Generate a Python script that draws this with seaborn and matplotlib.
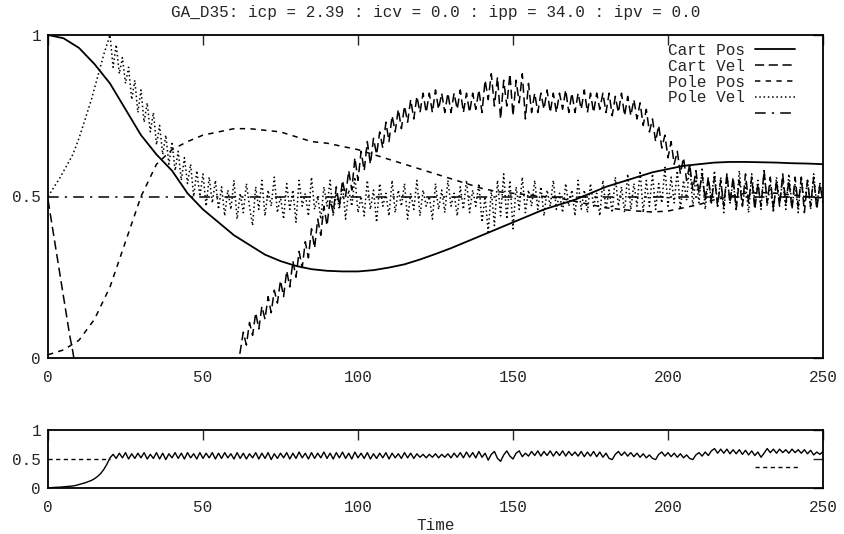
import numpy as np
import matplotlib
matplotlib.use("Agg")
import matplotlib.pyplot as plt
import seaborn as sns

# time grids
time_coarse = np.arange(0, 251, 5)
time_fine = np.arange(0, 251)
cart_vel_time = np.r_[0:11, 60:251]

# Cart Pos (every 5 time steps)
cart_pos = [1.0, 0.99, 0.96, 0.91, 0.85, 0.77, 0.69, 0.63, 0.58, 0.51,
            0.46, 0.42, 0.38, 0.35, 0.32, 0.30, 0.285, 0.275, 0.27, 0.268,
            0.268, 0.272, 0.28, 0.29, 0.305, 0.322, 0.34, 0.36, 0.38, 0.40,
            0.42, 0.44, 0.46, 0.475, 0.49, 0.51, 0.53, 0.545, 0.56, 0.575,
            0.585, 0.595, 0.60, 0.605, 0.607, 0.607, 0.606, 0.605, 0.603, 0.602,
            0.60]

# Pole Pos (every 5 time steps)
pole_pos = [0.01, 0.025, 0.055, 0.12, 0.22, 0.36, 0.50, 0.60, 0.645, 0.67,
            0.69, 0.70, 0.71, 0.71, 0.705, 0.70, 0.685, 0.67, 0.665, 0.655,
            0.645, 0.63, 0.615, 0.60, 0.585, 0.57, 0.555, 0.54, 0.525, 0.515,
            0.51, 0.505, 0.50, 0.495, 0.485, 0.475, 0.465, 0.46, 0.455, 0.452,
            0.455, 0.465, 0.475, 0.49, 0.50, 0.51, 0.512, 0.51, 0.505, 0.50,
            0.495]

# Cart Vel (t = 0..10, then 60..250)
cart_vel = [0.49, 0.43, 0.37, 0.31, 0.25, 0.19, 0.13, 0.07, 0.02, -0.04, -0.1,
            -0.1, -0.04,
            0.02, 0.08, 0.04, 0.11, 0.07, 0.14, 0.09, 0.16, 0.12, 0.19,
            0.14, 0.21, 0.17, 0.24, 0.19, 0.27, 0.22, 0.30, 0.25, 0.33,
            0.28, 0.36, 0.31, 0.40, 0.34, 0.43, 0.38, 0.47, 0.41, 0.49,
            0.45, 0.53, 0.47, 0.55, 0.50, 0.58, 0.52, 0.62, 0.55, 0.64,
            0.58, 0.67, 0.60, 0.68, 0.63, 0.70, 0.65, 0.73, 0.67, 0.75,
            0.70, 0.77, 0.71, 0.78, 0.73, 0.80, 0.74, 0.81, 0.76, 0.82,
            0.76, 0.82, 0.76, 0.83, 0.77, 0.82, 0.76, 0.82, 0.76, 0.82,
            0.77, 0.83, 0.76, 0.82, 0.76, 0.82, 0.77, 0.83, 0.76, 0.86,
            0.80, 0.88, 0.78, 0.87, 0.74, 0.86, 0.78, 0.88, 0.75, 0.86,
            0.79, 0.88, 0.74, 0.85, 0.76, 0.82, 0.76, 0.82, 0.77, 0.83,
            0.76, 0.82, 0.76, 0.82, 0.77, 0.83, 0.76, 0.82, 0.76, 0.82,
            0.77, 0.83, 0.76, 0.82, 0.76, 0.82, 0.77, 0.82, 0.76, 0.82,
            0.75, 0.81, 0.76, 0.82, 0.75, 0.81, 0.75, 0.80, 0.74, 0.79,
            0.72, 0.77, 0.70, 0.74, 0.67, 0.72, 0.65, 0.69, 0.62, 0.67,
            0.60, 0.64, 0.57, 0.62, 0.55, 0.60, 0.52, 0.58, 0.51, 0.57,
            0.49, 0.56, 0.48, 0.56, 0.47, 0.55, 0.47, 0.57, 0.48, 0.56,
            0.46, 0.55, 0.47, 0.57, 0.48, 0.56, 0.46, 0.54, 0.47, 0.58,
            0.48, 0.56, 0.46, 0.55, 0.47, 0.57, 0.48, 0.55, 0.46, 0.56,
            0.47, 0.56, 0.45, 0.55, 0.47, 0.56, 0.46, 0.54, 0.48]

# Pole Vel (t = 0..250)
pole_vel = [0.50, 0.515, 0.53, 0.545, 0.56, 0.578, 0.595, 0.612, 0.63, 0.655,
            0.68, 0.71, 0.74, 0.77, 0.80, 0.835, 0.87, 0.905, 0.94, 0.97,
            1.0, 0.90, 0.97, 0.88, 0.93, 0.85, 0.90, 0.80, 0.86, 0.76,
            0.83, 0.73, 0.79, 0.70, 0.76, 0.66, 0.72, 0.63, 0.69, 0.60,
            0.67, 0.58, 0.64, 0.55, 0.62, 0.54, 0.60, 0.50, 0.58, 0.50,
            0.57, 0.47, 0.56, 0.48, 0.55, 0.46, 0.53, 0.44, 0.52, 0.46,
            0.55, 0.43, 0.51, 0.45, 0.54, 0.47, 0.41, 0.53, 0.46, 0.55,
            0.44, 0.52, 0.47, 0.56, 0.45, 0.50, 0.43, 0.54, 0.46, 0.52,
            0.42, 0.55, 0.47, 0.51, 0.44, 0.56, 0.46, 0.50, 0.43, 0.53,
            0.47, 0.55, 0.44, 0.51, 0.46, 0.54, 0.43, 0.52, 0.47, 0.56,
            0.45, 0.50, 0.44, 0.55, 0.46, 0.52, 0.42, 0.54, 0.47, 0.51,
            0.44, 0.55, 0.45, 0.52, 0.47, 0.54, 0.43, 0.51, 0.46, 0.55,
            0.44, 0.52, 0.47, 0.50, 0.43, 0.54, 0.46, 0.52, 0.45, 0.55,
            0.47, 0.51, 0.44, 0.53, 0.46, 0.55, 0.45, 0.52, 0.47, 0.54,
            0.42, 0.50, 0.39, 0.52, 0.41, 0.55, 0.44, 0.57, 0.43, 0.55,
            0.40, 0.53, 0.46, 0.56, 0.45, 0.52, 0.47, 0.55, 0.46, 0.53,
            0.44, 0.52, 0.47, 0.55, 0.46, 0.51, 0.45, 0.54, 0.47, 0.52,
            0.44, 0.55, 0.46, 0.52, 0.45, 0.54, 0.47, 0.51, 0.44, 0.55,
            0.46, 0.52, 0.45, 0.56, 0.47, 0.53, 0.45, 0.57, 0.46, 0.54,
            0.47, 0.58, 0.45, 0.55, 0.47, 0.57, 0.46, 0.54, 0.48, 0.59,
            0.47, 0.56, 0.48, 0.58, 0.46, 0.55, 0.49, 0.60, 0.47, 0.56,
            0.48, 0.59, 0.46, 0.55, 0.49, 0.58, 0.47, 0.56, 0.45, 0.57,
            0.48, 0.55, 0.46, 0.58, 0.47, 0.54, 0.45, 0.57, 0.48, 0.55,
            0.46, 0.58, 0.47, 0.54, 0.45, 0.56, 0.48, 0.55, 0.46, 0.57,
            0.47, 0.54, 0.45, 0.56, 0.48, 0.55, 0.46, 0.57, 0.47, 0.54,
            0.49]

ref_time = [0, 250]
ref_level = [0.5, 0.5]

# lower panel (t = 0..250)
fitness = [0.0, 0.005, 0.01, 0.012, 0.015, 0.02, 0.025, 0.03, 0.035, 0.045,
           0.06, 0.075, 0.09, 0.11, 0.13, 0.16, 0.20, 0.25, 0.32, 0.41,
           0.52, 0.58, 0.51, 0.60, 0.52, 0.61, 0.50, 0.59, 0.51, 0.60,
           0.52, 0.61, 0.50, 0.58, 0.51, 0.61, 0.50, 0.60, 0.49, 0.59,
           0.52, 0.61, 0.51, 0.60, 0.50, 0.61, 0.52, 0.59, 0.50, 0.61,
           0.51, 0.60, 0.52, 0.61, 0.50, 0.60, 0.51, 0.61, 0.52, 0.59,
           0.50, 0.61, 0.51, 0.60, 0.50, 0.59, 0.52, 0.61, 0.50, 0.60,
           0.51, 0.61, 0.49, 0.59, 0.51, 0.60, 0.52, 0.61, 0.50, 0.60,
           0.51, 0.62, 0.52, 0.60, 0.50, 0.61, 0.51, 0.60, 0.52, 0.62,
           0.51, 0.60, 0.50, 0.61, 0.52, 0.62, 0.51, 0.60, 0.50, 0.62,
           0.52, 0.60, 0.51, 0.61, 0.50, 0.59, 0.51, 0.60, 0.52, 0.61,
           0.50, 0.60, 0.52, 0.59, 0.51, 0.61, 0.52, 0.60, 0.51, 0.59,
           0.53, 0.58, 0.52, 0.58, 0.53, 0.59, 0.52, 0.58, 0.53, 0.59,
           0.52, 0.60, 0.53, 0.61, 0.52, 0.62, 0.53, 0.61, 0.52, 0.63,
           0.53, 0.60, 0.48, 0.58, 0.63, 0.51, 0.46, 0.57, 0.64, 0.55,
           0.50, 0.60, 0.64, 0.54, 0.60, 0.55, 0.63, 0.56, 0.64, 0.55,
           0.63, 0.56, 0.64, 0.55, 0.63, 0.56, 0.64, 0.55, 0.63, 0.56,
           0.62, 0.55, 0.63, 0.54, 0.62, 0.55, 0.63, 0.54, 0.62, 0.53,
           0.60, 0.51, 0.49, 0.58, 0.63, 0.56, 0.62, 0.55, 0.61, 0.54,
           0.60, 0.53, 0.59, 0.52, 0.57, 0.51, 0.49, 0.58, 0.62, 0.55,
           0.61, 0.54, 0.60, 0.53, 0.59, 0.52, 0.57, 0.51, 0.49, 0.57,
           0.61, 0.55, 0.62, 0.56, 0.64, 0.68, 0.60, 0.67, 0.60, 0.67,
           0.59, 0.66, 0.59, 0.66, 0.58, 0.65, 0.57, 0.64, 0.56, 0.62,
           0.53, 0.60, 0.68, 0.61, 0.67, 0.60, 0.67, 0.61, 0.66, 0.60,
           0.67, 0.61, 0.66, 0.60, 0.66, 0.59, 0.65, 0.57, 0.62, 0.58,
           0.63]
fitness_ref_time = [0, 20]
fitness_ref_level = [0.5, 0.5]

x_ticks = [0, 50, 100, 150, 200, 250]
y_ticks = [0, 0.5, 1]
y_labels = ["0", "0.5", "1"]

sns.set_style("white")
plt.rcParams["font.family"] = ["Liberation Mono", "DejaVu Sans Mono"]

fig = plt.figure(figsize=(8.45, 5.34), dpi=100)
ax = fig.add_axes([48 / 845, 1 - 358 / 534, 775 / 845, 323 / 534])
ax2 = fig.add_axes([48 / 845, 1 - 488 / 534, 775 / 845, 58 / 534])

lw = 1.1
sns.lineplot(x=time_coarse, y=cart_pos, ax=ax, color="black", linewidth=1.3)
sns.lineplot(x=cart_vel_time, y=cart_vel, ax=ax, color="black", linewidth=lw,
             linestyle=(0, (6, 3)))
sns.lineplot(x=time_coarse, y=pole_pos, ax=ax, color="black", linewidth=lw,
             linestyle=(0, (3.5, 3.5)))
sns.lineplot(x=time_fine, y=pole_vel, ax=ax, color="black", linewidth=lw,
             linestyle=(0, (1, 1.8)))
sns.lineplot(x=ref_time, y=ref_level, ax=ax, color="black", linewidth=lw,
             linestyle=(0, (7, 4, 1.5, 4)))

handles = ax.get_lines()[:5]
ax.legend(handles, ["Cart Pos", "Cart Vel", "Pole Pos", "Pole Vel", ""],
          loc="upper right", bbox_to_anchor=(0.982, 1.02), frameon=False,
          markerfirst=False, handlelength=2.5, handletextpad=0.6,
          labelspacing=0.05, fontsize=11.5)

ax.set_xlim(0, 250)
ax.set_ylim(0, 1)
ax.set_xticks(x_ticks)
ax.set_yticks(y_ticks)
ax.set_yticklabels(y_labels)
ax.set_title("GA_D35: icp = 2.39 : icv = 0.0 : ipp = 34.0 : ipv = 0.0",
             fontsize=11.5, pad=13)

sns.lineplot(x=time_fine, y=fitness, ax=ax2, color="black", linewidth=1.0)
sns.lineplot(x=fitness_ref_time, y=fitness_ref_level, ax=ax2, color="black",
             linewidth=1.0, linestyle=(0, (3, 2.5)))
ax2.legend([ax2.get_lines()[1]], [""], loc="lower right",
           bbox_to_anchor=(0.985, -0.02), frameon=False, markerfirst=False,
           handlelength=2.8, fontsize=11)
ax2.set_xlim(0, 250)
ax2.set_ylim(0, 1)
ax2.set_xticks(x_ticks)
ax2.set_yticks(y_ticks)
ax2.set_yticklabels(y_labels)
ax2.set_xlabel("Time", fontsize=11.5, labelpad=2)
ax2.set_ylabel("")
ax.set_xlabel("")
ax.set_ylabel("")

for a in (ax, ax2):
    a.tick_params(direction="in", length=7, width=1, top=True, right=True,
                  labelsize=11.5, pad=5)
    a.tick_params(axis="x", pad=9)
    for s in a.spines.values():
        s.set_color("black")
        s.set_linewidth(1.3)

fig.savefig("out.png", dpi=100, facecolor="white")
